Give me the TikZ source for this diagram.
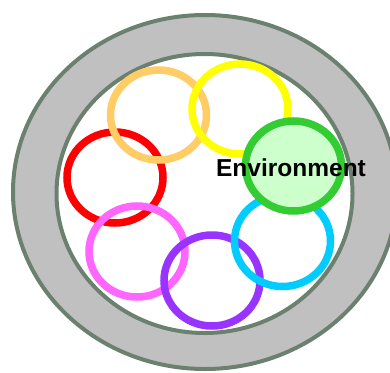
\documentclass[tikz,border=0pt]{standalone}
\usepackage{fontspec}
\newfontfamily\labelfont{Liberation Sans}
\definecolor{ringgray}{RGB}{192, 192, 192}
\definecolor{rimgreen}{RGB}{108, 128, 112}
\definecolor{ringred}{RGB}{255, 0, 0}
\definecolor{ringorange}{RGB}{255, 204, 102}
\definecolor{ringyellow}{RGB}{255, 255, 0}
\definecolor{ringpink}{RGB}{255, 102, 255}
\definecolor{ringviolet}{RGB}{153, 51, 255}
\definecolor{ringcyan}{RGB}{0, 204, 255}
\definecolor{envgreen}{RGB}{51, 204, 51}
\definecolor{envfill}{RGB}{204, 255, 204}
\usetikzlibrary{positioning}

\tikzset{
  rim/.style={draw=rimgreen, line width=4pt},
  ring/.style={line width=7.5pt}
}

\begin{document}
\begin{tikzpicture}[x=1pt, y=-1pt]
  \useasboundingbox (0,0) rectangle (390,372);

  % outer band and inner field
  \draw[rim, fill=ringgray] (205,192) ellipse (192 and 177);
  \draw[rim, fill=white] (204.5,193.5) ellipse (148 and 139.5);

  % the ring of circles
  \draw[ring, draw=ringred] (115,177.5) ellipse (48 and 45.5);
  \draw[ring, draw=ringorange] (158.5,115) ellipse (48 and 45);
  \draw[ring, draw=ringyellow] (240,109) ellipse (48 and 45);
  \draw[ring, draw=ringpink] (137,251.5) ellipse (48 and 45.5);
  \draw[ring, draw=ringviolet] (212,280.5) ellipse (48 and 45.5);
  \draw[ring, draw=ringcyan] (282.5,241) ellipse (48 and 45.5);
  \draw[ring, draw=envgreen, fill=envfill] (293.5,166) ellipse (48 and 45);

  \node[anchor=base, inner sep=0pt, font=\labelfont\bfseries\fontsize{24.5}{28}\selectfont] (env) at (291,176) {Environment};
\end{tikzpicture}
\end{document}
